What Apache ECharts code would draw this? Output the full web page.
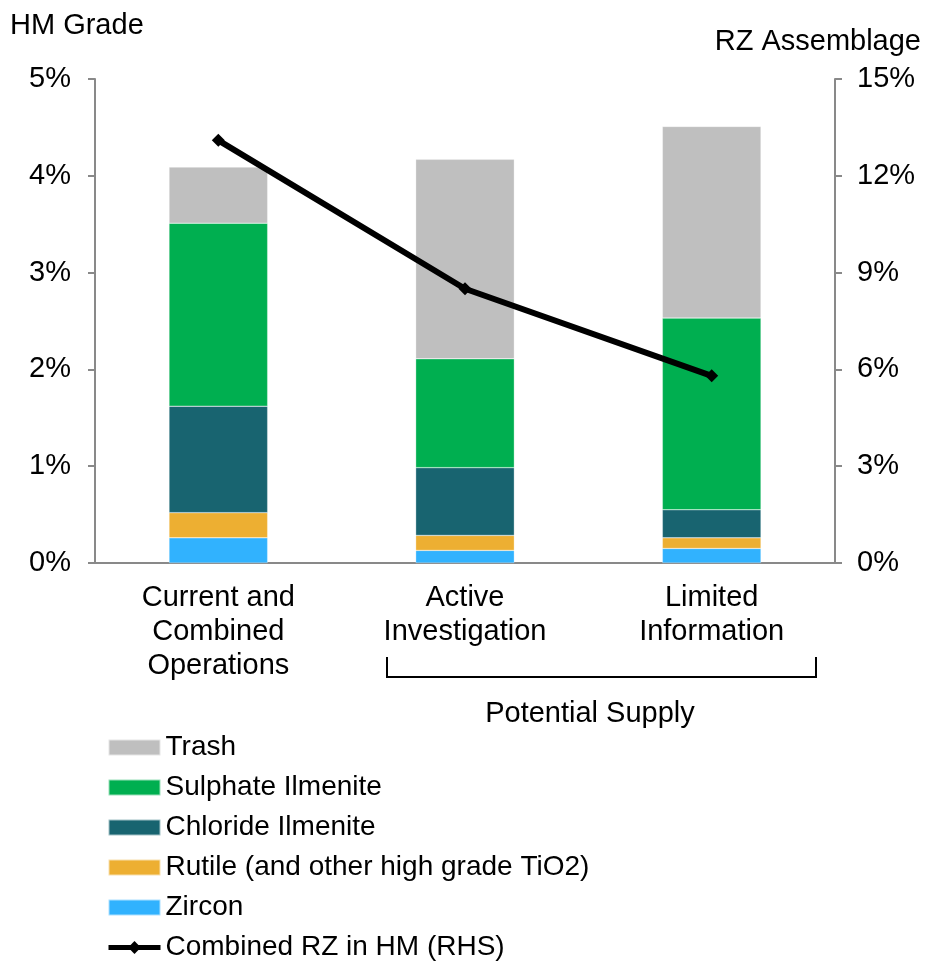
<!DOCTYPE html>
<html>
<head>
<meta charset="utf-8">
<script src="https://cdn.jsdelivr.net/npm/echarts@6/dist/echarts.min.js"></script>
<style>
  html, body { margin: 0; padding: 0; background: #fff; }
  #chart { width: 926px; height: 962px; }
</style>
</head>
<body>
<div id="chart"></div>
<script>
// categories on the x axis
const categories = ['Current and\nCombined\nOperations', 'Active\nInvestigation', 'Limited\nInformation'];

// HM grade split (%), stacked bottom -> top
const zircon   = [0.26, 0.13, 0.15];
const rutile   = [0.26, 0.155, 0.11];
const chloride = [1.10, 0.70, 0.29];
const sulphate = [1.89, 1.125, 1.98];
const trash    = [0.58, 2.06, 1.98];

// combined RZ in HM (RHS, %)
const combinedRZ = [13.1, 8.5, 5.8];

const leftTicks = { min: 0, max: 5, interval: 1 };
const rightTicks = { min: 0, max: 15, interval: 3 };

const font = 'Liberation Sans, Arial, sans-serif';
const axisGrey = '#898989';
const fs = 29;

function barSeries(name, data, color) {
  return {
    name: name,
    type: 'bar',
    stack: 'hm',
    data: data,
    barWidth: '40%',
    itemStyle: { color: color, borderColor: 'rgba(255,255,255,0.6)', borderWidth: 0.5 },
    emphasis: { disabled: true }
  };
}

const chart = echarts.init(document.getElementById('chart'));

chart.setOption({
  animation: false,
  textStyle: { fontFamily: font, color: '#000' },
  grid: { left: 95, right: 91, top: 79, bottom: 399, containLabel: false },
  legend: {
    orient: 'vertical',
    left: 106,
    top: 733,
    padding: 0,
    itemWidth: 52,
    itemHeight: 16,
    itemGap: 11,
    textStyle: { fontSize: fs - 1, fontFamily: font, color: '#000', padding: [0, 0, 0, 0], lineHeight: 29 },
    data: [
      { name: 'Trash', icon: 'rect' },
      { name: 'Sulphate Ilmenite', icon: 'rect' },
      { name: 'Chloride Ilmenite', icon: 'rect' },
      { name: 'Rutile (and other high grade TiO2)', icon: 'rect' },
      { name: 'Zircon', icon: 'rect' },
      { name: 'Combined RZ in HM (RHS)', lineStyle: { width: 5, color: '#000' } }
    ]
  },
  xAxis: {
    type: 'category',
    data: categories,
    axisLine: { lineStyle: { color: axisGrey, width: 2 } },
    axisTick: { length: 7, lineStyle: { color: axisGrey, width: 2 } },
    axisLabel: { fontSize: fs, lineHeight: 34, color: '#000', margin: 18, fontFamily: font }
  },
  yAxis: [
    {
      type: 'value',
      min: leftTicks.min, max: leftTicks.max, interval: leftTicks.interval,
      splitLine: { show: false },
      axisLine: { show: true, lineStyle: { color: axisGrey, width: 2 } },
      axisTick: { show: true, length: 7, lineStyle: { color: axisGrey, width: 2 } },
      axisLabel: { fontSize: fs, color: '#000', margin: 24, formatter: '{value}%', fontFamily: font }
    },
    {
      type: 'value',
      position: 'right',
      min: rightTicks.min, max: rightTicks.max, interval: rightTicks.interval,
      splitLine: { show: false },
      axisLine: { show: true, lineStyle: { color: axisGrey, width: 2 } },
      axisTick: { show: true, length: 7, lineStyle: { color: axisGrey, width: 2 } },
      axisLabel: { fontSize: fs, color: '#000', margin: 22, formatter: '{value}%', fontFamily: font }
    }
  ],
  graphic: [
    { type: 'text', left: 10, top: 11, style: { text: 'HM Grade', font: fs + 'px ' + font, fill: '#000' } },
    { type: 'text', right: 5, top: 27, style: { text: 'RZ Assemblage', font: fs + 'px ' + font, fill: '#000' } },
    {
      type: 'polyline',
      shape: { points: [[387, 657], [387, 677], [816, 677], [816, 657]] },
      style: { stroke: '#000', lineWidth: 2, fill: null }
    },
    { type: 'text', x: 590, y: 699, style: { text: 'Potential Supply', font: fs + 'px ' + font, fill: '#000', textAlign: 'center' } }
  ],
  series: [
    barSeries('Zircon', zircon, '#31B2FE'),
    barSeries('Rutile (and other high grade TiO2)', rutile, '#EDAF32'),
    barSeries('Chloride Ilmenite', chloride, '#186470'),
    barSeries('Sulphate Ilmenite', sulphate, '#00AF50'),
    barSeries('Trash', trash, '#BFBFBF'),
    {
      name: 'Combined RZ in HM (RHS)',
      type: 'line',
      yAxisIndex: 1,
      data: combinedRZ,
      symbol: 'diamond',
      symbolSize: 13,
      lineStyle: { color: '#000', width: 6 },
      itemStyle: { color: '#000' },
      emphasis: { disabled: true },
      z: 5
    }
  ]
});
</script>
</body>
</html>
